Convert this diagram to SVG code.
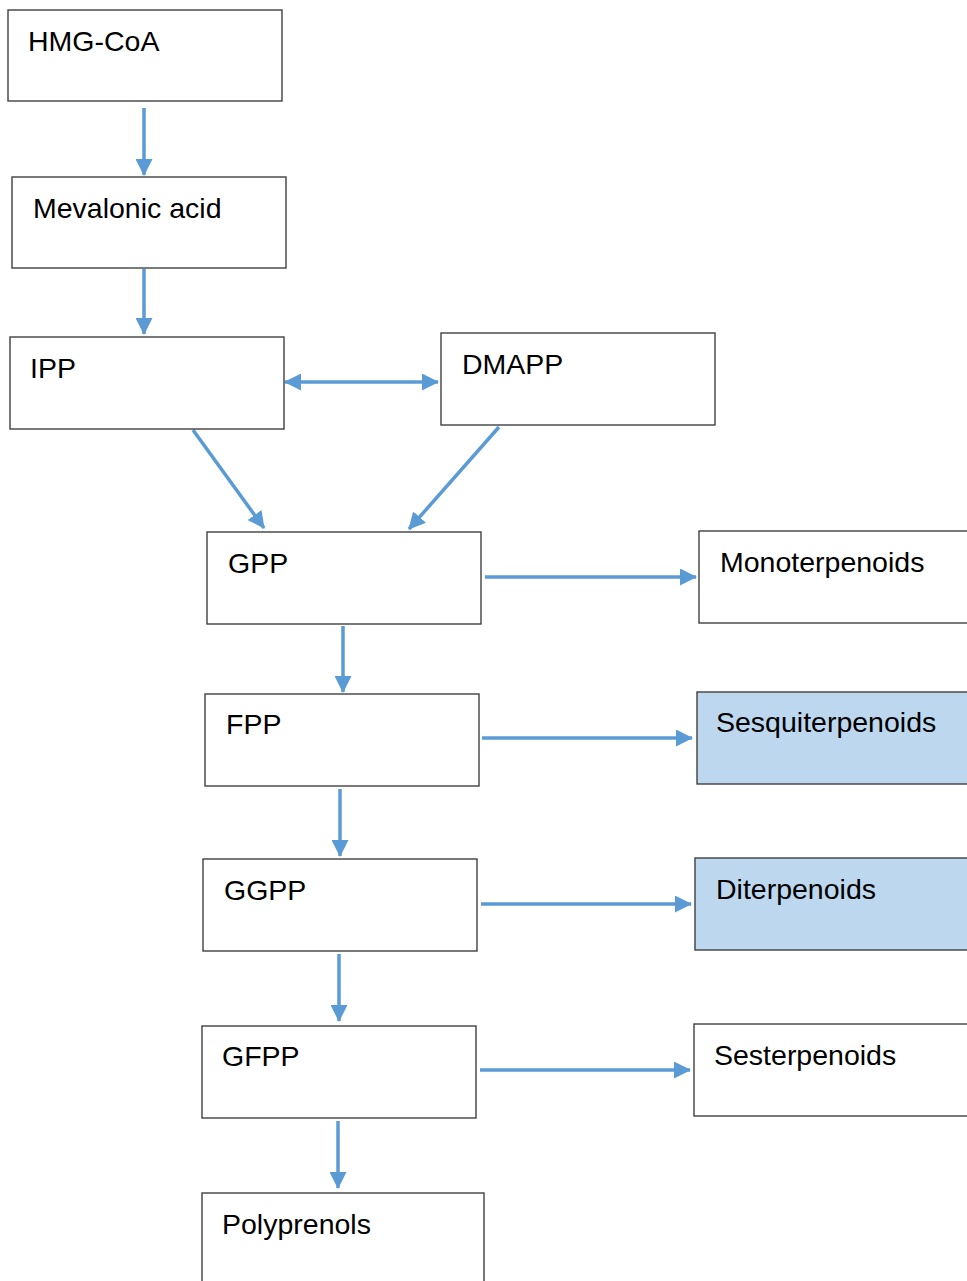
<svg xmlns="http://www.w3.org/2000/svg" width="967" height="1281" viewBox="0 0 967 1281">
<style>
.box{fill:#ffffff;stroke:#404040;stroke-width:1.4}
.hl{fill:#BDD7EE;stroke:#404040;stroke-width:1.4}
.lbl{font-family:"Liberation Sans",Arial,sans-serif;font-size:28.5px;fill:#000}
.arr{stroke:#5B9BD5;stroke-width:3.5;fill:none;marker-end:url(#ah)}
.dbl{stroke:#5B9BD5;stroke-width:3.5;fill:none;marker-end:url(#ah);marker-start:url(#ah)}
</style>
<defs>
<marker id="ah" markerUnits="userSpaceOnUse" markerWidth="17" markerHeight="17" refX="16" refY="8.5" orient="auto-start-reverse" viewBox="0 0 17 17">
<path d="M0,0 L17,8.5 L0,17 Z" fill="#5B9BD5"/>
</marker>
</defs>
<rect width="967" height="1281" fill="#ffffff"/>
<g id="connectors">
<line class="arr" x1="144" y1="108" x2="144" y2="175"/>
<line class="arr" x1="144" y1="269" x2="144" y2="334"/>
<line class="dbl" x1="285" y1="382" x2="438" y2="382"/>
<line class="arr" x1="193" y1="430" x2="264" y2="528"/>
<line class="arr" x1="499" y1="427" x2="409" y2="529"/>
<line class="arr" x1="485" y1="577" x2="696" y2="577"/>
<line class="arr" x1="343" y1="626" x2="343" y2="692"/>
<line class="arr" x1="482" y1="738" x2="692" y2="738"/>
<line class="arr" x1="340" y1="789" x2="340" y2="856"/>
<line class="arr" x1="481" y1="904" x2="691" y2="904"/>
<line class="arr" x1="339" y1="954" x2="339" y2="1021"/>
<line class="arr" x1="480" y1="1070" x2="690" y2="1070"/>
<line class="arr" x1="338" y1="1121" x2="338" y2="1188"/>
</g>
<g id="hmgcoa"><rect class="box" x="8" y="10" width="274" height="91"/><text class="lbl" x="28" y="51">HMG-CoA</text></g>
<g id="mevalonic"><rect class="box" x="12" y="177" width="274" height="91"/><text class="lbl" x="33" y="218">Mevalonic acid</text></g>
<g id="ipp"><rect class="box" x="10" y="337" width="274" height="92"/><text class="lbl" x="30" y="378">IPP</text></g>
<g id="dmapp"><rect class="box" x="441" y="333" width="274" height="92"/><text class="lbl" x="462" y="374">DMAPP</text></g>
<g id="gpp"><rect class="box" x="207" y="532" width="274" height="92"/><text class="lbl" x="228" y="573">GPP</text></g>
<g id="monoterpenoids"><rect class="box" x="699" y="531" width="290" height="92"/><text class="lbl" x="720" y="572">Monoterpenoids</text></g>
<g id="fpp"><rect class="box" x="205" y="694" width="274" height="92"/><text class="lbl" x="226" y="734">FPP</text></g>
<g id="sesquiterpenoids"><rect class="hl" x="697" y="692" width="290" height="92"/><text class="lbl" x="716" y="732">Sesquiterpenoids</text></g>
<g id="ggpp"><rect class="box" x="203" y="859" width="274" height="92"/><text class="lbl" x="224" y="900">GGPP</text></g>
<g id="diterpenoids"><rect class="hl" x="695" y="858" width="290" height="92"/><text class="lbl" x="716" y="899">Diterpenoids</text></g>
<g id="gfpp"><rect class="box" x="202" y="1026" width="274" height="92"/><text class="lbl" x="222" y="1066">GFPP</text></g>
<g id="sesterpenoids"><rect class="box" x="694" y="1024" width="290" height="92"/><text class="lbl" x="714" y="1065">Sesterpenoids</text></g>
<g id="polyprenols"><rect class="box" x="202" y="1193" width="282" height="100"/><text class="lbl" x="222" y="1234">Polyprenols</text></g>
</svg>
